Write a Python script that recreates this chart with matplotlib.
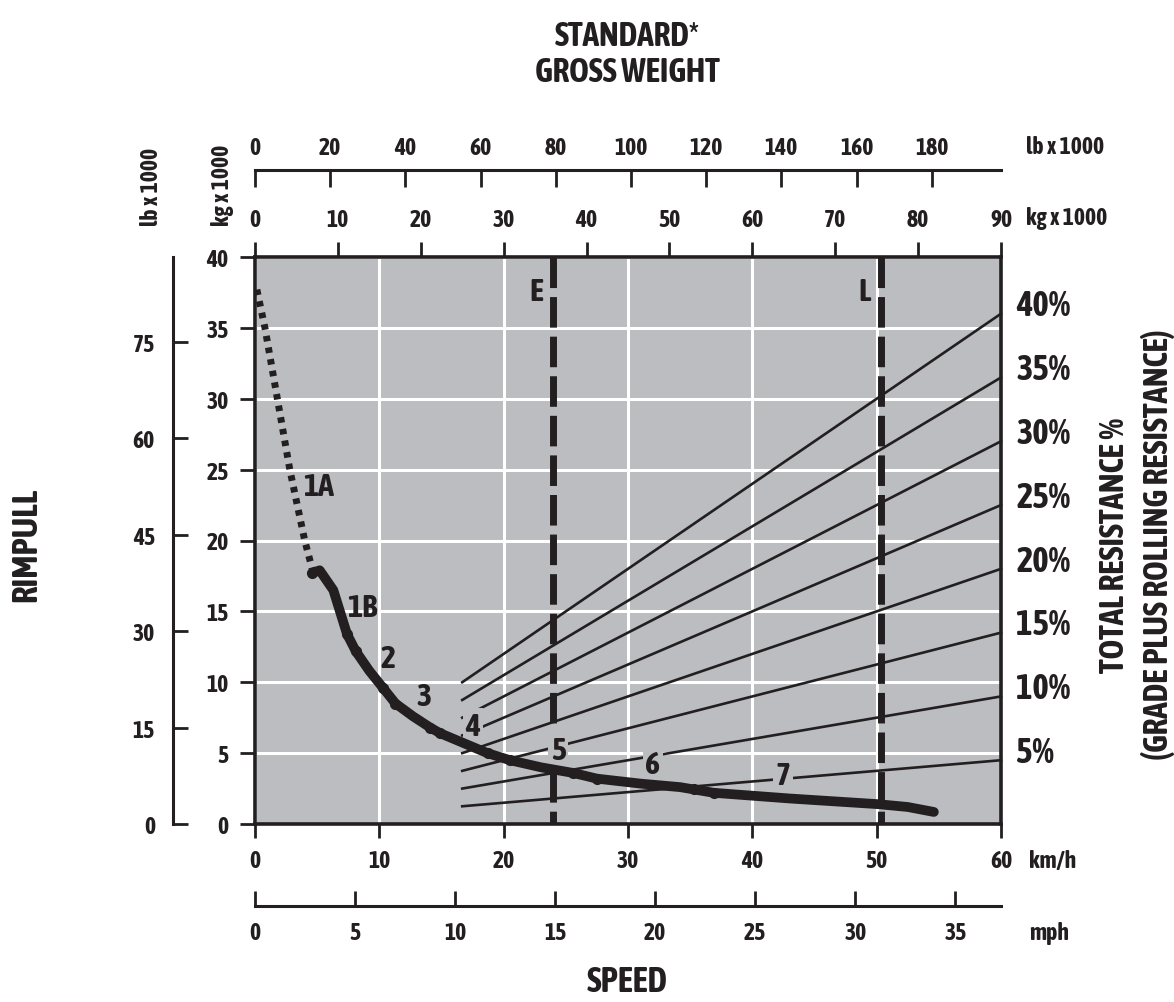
import matplotlib
matplotlib.use("Agg")
import matplotlib.pyplot as plt
import matplotlib.font_manager as fm


def wnum(w):
    if isinstance(w, (int, float)):
        return int(w)
    return fm.weight_dict.get(str(w), 400)


# schmale, fette Schrift suchen (falls vorhanden)
narrow_bold = None
dejavu_cond_bold = False
for f in fm.fontManager.ttflist:
    if f.style != 'normal':
        continue
    if ('Narrow' in f.name or 'Condensed' in f.name) and 650 <= wnum(f.weight) <= 750:
        if narrow_bold is None:
            narrow_bold = f.name
    if f.name == 'DejaVu Sans' and 'CondensedBold' in f.fname.replace('-', '').replace('_', ''):
        dejavu_cond_bold = True

if narrow_bold:
    plt.rcParams['font.family'] = [narrow_bold, 'DejaVu Sans']
else:
    plt.rcParams['font.family'] = ['DejaVu Sans']
    if dejavu_cond_bold:
        plt.rcParams['font.stretch'] = 'condensed'
plt.rcParams['font.weight'] = 'bold'

# ----------------------
# Daten
# ----------------------
kmh_ticks = [0, 10, 20, 30, 40, 50, 60]
mph_ticks = [0, 5, 10, 15, 20, 25, 30, 35]
rim_kg_ticks = [0, 5, 10, 15, 20, 25, 30, 35, 40]
rim_lb_ticks = [0, 15, 30, 45, 60, 75]
weight_kg_ticks = [0, 10, 20, 30, 40, 50, 60, 70, 80, 90]
weight_lb_ticks = [0, 20, 40, 60, 80, 100, 120, 140, 160, 180]

# Gang 1A (gepunktet)
speed_1a = [0.15, 0.8, 1.8, 2.8, 4.0, 4.6]
rim_1a = [37.7, 35.0, 30.0, 25.0, 20.0, 18.0]

# Zugkraftkurve (durchgezogen)
speed_curve = [4.6, 5.2, 6.3, 7.4, 8.1, 9.2, 10.3, 11.3, 12.7, 14.1, 14.9, 16.8,
               18.7, 20.5, 23.0, 25.6, 27.5, 31.0, 34.2, 36.9, 43.0, 50.1, 52.5, 54.6]
rim_curve = [17.7, 17.9, 16.5, 13.4, 12.2, 10.8, 9.6, 8.5, 7.6, 6.8, 6.4, 5.7,
             5.0, 4.5, 4.0, 3.6, 3.2, 2.85, 2.6, 2.2, 1.8, 1.4, 1.2, 0.85]

# Schaltpunkte
shift_speed = [4.6, 7.4, 8.1, 10.3, 11.3, 14.1, 14.9, 18.7, 20.5, 25.6, 27.5, 35.3, 36.9]
shift_rim = [17.7, 13.4, 12.2, 9.6, 8.5, 6.8, 6.4, 5.0, 4.5, 3.6, 3.2, 2.45, 2.2]

# Gesamtwiderstand
resistance_pct = [5, 10, 15, 20, 25, 30, 35, 40]
weight_start = 25.0
weight_end = 90.0
empty_weight = 36.0
loaded_weight = 75.5

gear_labels = ['1A', '1B', '2', '3', '4', '5', '6', '7']
gear_x = [5.1, 8.6, 10.7, 13.6, 17.5, 24.4, 32.0, 42.5]
gear_y = [23.8, 15.3, 11.7, 9.0, 6.9, 5.2, 4.2, 3.4]

KG_TO_LB = 2.20462
KMH_TO_MPH = 1 / 1.609344

# ----------------------
# Layout (Pixel)
# ----------------------
W, H = 1174, 1003
dark = '#231f20'
gray = '#bcbdc0'
tick_fs = 17
big_fs = 24


def rect(x0, y0, x1, y1):
    return [x0 / W, 1 - y1 / H, (x1 - x0) / W, (y1 - y0) / H]


def ftext(x, y, s, **kw):
    fig.text(x / W, 1 - y / H, s, color=dark, fontweight='bold', **kw)


fig = plt.figure(figsize=(W / 100, H / 100), dpi=100)

ax = fig.add_axes(rect(255, 258, 1001, 825))
ax.set_facecolor(gray)
ax.set_xlim(0, 60)
ax.set_ylim(0, 40)
ax.set_xticks(kmh_ticks)
ax.set_yticks(rim_kg_ticks)
ax.grid(color='white', lw=2.2, zorder=0)
ax.set_axisbelow(True)
for s in ax.spines.values():
    s.set_linewidth(2.6)
    s.set_color(dark)
ax.tick_params(axis='x', direction='out', length=10, width=2, color=dark,
               labelsize=tick_fs, pad=8, labelcolor=dark)
ax.tick_params(axis='y', direction='out', length=11, width=2, color=dark,
               labelsize=tick_fs, pad=8, labelcolor=dark)

# kg-Achse oben
ax_kg = ax.twiny()
ax_kg.set_xlim(0, 90)
ax_kg.set_xticks(weight_kg_ticks)
for s in ax_kg.spines.values():
    s.set_visible(False)
ax_kg.tick_params(axis='x', direction='out', length=11, width=2, color=dark,
                  labelsize=tick_fs, pad=8, labelcolor=dark)

# Widerstandslinien
for p in resistance_pct:
    ax.plot([weight_start, weight_end], [weight_start * p / 100, weight_end * p / 100],
            color=dark, lw=1.9, transform=ax_kg.transData, zorder=2, clip_on=False)

# E / L
for w in [empty_weight, loaded_weight]:
    ax.plot([w, w], [40, 0], color=dark, lw=5, dashes=(4.4, 1.3),
            transform=ax_kg.transData, zorder=3, solid_capstyle='butt')
ax.text(empty_weight - 1.2, 37.6, 'E', transform=ax_kg.transData, ha='right', va='center',
        fontsize=23, color=dark, zorder=4)
ax.text(loaded_weight - 1.2, 37.6, 'L', transform=ax_kg.transData, ha='right', va='center',
        fontsize=23, color=dark, zorder=4)

# Gang-Beschriftungen
for lab, gx, gy in zip(gear_labels, gear_x, gear_y):
    box = None
    if lab in ['4', '5', '6', '7']:
        box = dict(boxstyle='square,pad=0.08', fc=gray, ec='none')
    ax.text(gx, gy, lab, ha='center', va='center', fontsize=23, color=dark,
            zorder=5, bbox=box)

# Zugkraftkurve
ax.plot(speed_1a, rim_1a, color=dark, lw=5, dashes=(0.8, 0.9), zorder=6,
        dash_capstyle='butt')
ax.plot(speed_curve, rim_curve, color=dark, lw=7, zorder=7,
        solid_capstyle='round', solid_joinstyle='round')
ax.plot(shift_speed, shift_rim, 'o', color=dark, ms=7, zorder=7)

# Prozent-Beschriftung rechts
for p in resistance_pct:
    ax.annotate(f'{p}%', xy=(weight_end, weight_end * p / 100), xycoords=ax_kg.transData,
                xytext=(11, 6), textcoords='offset points', ha='left', va='center',
                fontsize=25, color=dark)

# lb-Achse oben
ax_lbt = fig.add_axes(rect(255, 171, 1001, 171))
ax_lbt.set_xlim(0, 90 * KG_TO_LB)
ax_lbt.set_xticks(weight_lb_ticks)
ax_lbt.set_yticks([])
for k, s in ax_lbt.spines.items():
    s.set_visible(k == 'top')
    s.set_linewidth(2.2)
    s.set_color(dark)
ax_lbt.tick_params(axis='x', top=True, bottom=False, labeltop=True, labelbottom=False,
                   direction='in', length=12, width=2, color=dark, labelsize=tick_fs, pad=8,
                   labelcolor=dark)
ax_lbt.patch.set_visible(False)

# mph-Achse unten
ax_mph = fig.add_axes(rect(255, 907, 1001, 907))
ax_mph.set_xlim(0, 60 * KMH_TO_MPH)
ax_mph.set_xticks(mph_ticks)
ax_mph.set_yticks([])
for k, s in ax_mph.spines.items():
    s.set_visible(k == 'bottom')
    s.set_linewidth(2.2)
    s.set_color(dark)
ax_mph.tick_params(axis='x', direction='in', length=11, width=2, color=dark,
                   labelsize=tick_fs, pad=11, labelcolor=dark)
ax_mph.patch.set_visible(False)

# lb-Achse links
ax_lbl = fig.add_axes(rect(173, 258, 173, 825))
ax_lbl.set_ylim(0, 40 * KG_TO_LB)
ax_lbl.set_yticks(rim_lb_ticks)
ax_lbl.set_xticks([])
for k, s in ax_lbl.spines.items():
    s.set_visible(k == 'left')
    s.set_linewidth(2.2)
    s.set_color(dark)
ax_lbl.tick_params(axis='y', direction='in', length=11, width=2, color=dark,
                   labelsize=tick_fs, pad=13, labelcolor=dark)
ax_lbl.patch.set_visible(False)

for a in [ax, ax_kg, ax_lbt, ax_mph, ax_lbl]:
    for t in a.get_xticklabels() + a.get_yticklabels():
        t.set_fontweight('bold')

# Beschriftungen
ftext(627, 36, 'STANDARD*', ha='center', va='center', fontsize=big_fs)
ftext(627, 72, 'GROSS WEIGHT', ha='center', va='center', fontsize=big_fs)
ftext(1026, 147, 'lb x 1000', ha='left', va='center', fontsize=tick_fs)
ftext(1026, 219, 'kg x 1000', ha='left', va='center', fontsize=tick_fs)
ftext(152, 187, 'lb x 1000', ha='center', va='center', fontsize=tick_fs, rotation=90)
ftext(223, 185, 'kg x 1000', ha='center', va='center', fontsize=tick_fs, rotation=90)
ftext(1029, 862, 'km/h', ha='left', va='center', fontsize=tick_fs)
ftext(1029, 934, 'mph', ha='left', va='center', fontsize=tick_fs)
ftext(627, 982, 'SPEED', ha='center', va='center', fontsize=25)
ftext(26, 545, 'RIMPULL', ha='center', va='center', fontsize=25, rotation=90)
ftext(1114, 545, 'TOTAL RESISTANCE %', ha='center', va='center', fontsize=big_fs, rotation=90)
ftext(1158, 545, '(GRADE PLUS ROLLING RESISTANCE)', ha='center', va='center',
      fontsize=big_fs, rotation=90)

fig.savefig('out.png', dpi=100)
